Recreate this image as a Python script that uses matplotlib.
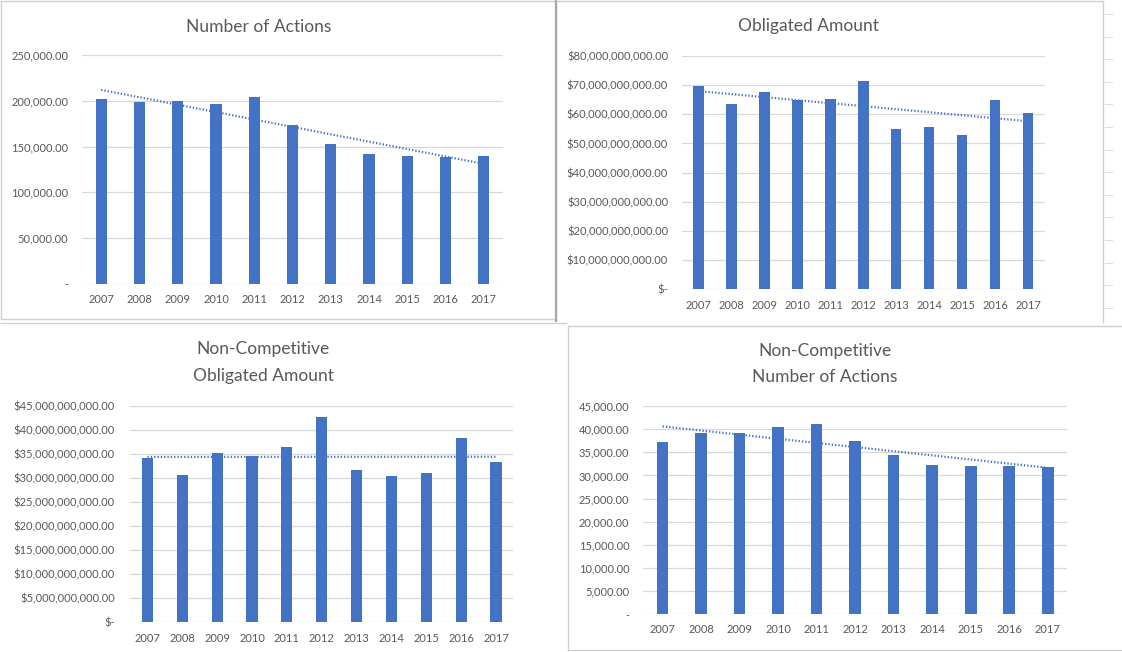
import numpy as np
import matplotlib
matplotlib.use("Agg")
import matplotlib.pyplot as plt
from matplotlib.ticker import FuncFormatter, MultipleLocator

plt.rcParams['font.family'] = ['Lato', 'DejaVu Sans']

years = ['2007', '2008', '2009', '2010', '2011', '2012', '2013', '2014', '2015', '2016', '2017']

# values
num_actions = [202000, 198700, 199400, 196200, 203800, 173600, 152500, 142300, 140000, 138300, 140000]
obligated = [69.6e9, 63.5e9, 67.6e9, 64.9e9, 65.2e9, 71.3e9, 54.9e9, 55.5e9, 52.9e9, 64.9e9, 60.4e9]
nc_obligated = [34.3e9, 30.6e9, 35.3e9, 34.7e9, 36.4e9, 42.7e9, 31.7e9, 30.4e9, 31.1e9, 38.3e9, 33.4e9]
nc_actions = [37150, 39100, 39100, 40500, 41200, 37400, 34500, 32300, 32100, 32100, 31900]

W, H = 1122, 652
BAR = '#4472C4'
TXT = '#595959'
GRID = '#D9D9D9'

fig = plt.figure(figsize=(W / 100, H / 100), dpi=100, facecolor='white')

# background layer in pixel coordinates for the panel frames
bg = fig.add_axes([0, 0, 1, 1], zorder=0)
bg.set_xlim(0, W)
bg.set_ylim(H, 0)
bg.axis('off')
frames = [
    ([0.5, 556, 556, 0.5, 0.5], [0.5, 0.5, 318.5, 318.5, 0.5], '#D0D0D0', 1.0),
    ([556, 556], [0, 322], '#A8A8A8', 1.6),
    ([556, 1103, 1103], [0.5, 0.5, 322.5], '#D0D0D0', 1.0),
    ([0, 567], [322.5, 322.5], '#D0D0D0', 1.0),
    ([568, 568, 1122], [651, 326, 326], '#D0D0D0', 1.0),
    ([568, 1122], [649.5, 649.5], '#D0D0D0', 1.0),
]
for xs, ys, c, lw in frames:
    bg.plot(xs, ys, color=c, lw=lw, solid_capstyle='butt')
# spreadsheet cell lines peeking out at the right
for yy in np.arange(14, 310, 22.6):
    bg.plot([1105, 1112], [yy, yy], color='#E0E0E0', lw=0.8)


def px_axes(x0, y0, x1, y1):
    return fig.add_axes([x0 / W, 1 - y1 / H, (x1 - x0) / W, (y1 - y0) / H], zorder=2)


def money(v, p):
    return '$-' if v == 0 else f'${v:,.2f}'


def plain(v, p):
    return '-' if v == 0 else f'{v:,.2f}'


def chart(box, values, ymax, step, fmt, titles, title_x, ypad, xpad, bar_w):
    ax = px_axes(*box)
    x = np.arange(len(years))
    ax.bar(x, values, width=bar_w, color=BAR, zorder=3)
    # linear trendline, as Excel draws it
    k, b = np.polyfit(x, values, 1)
    ax.plot([0, 10], [b, b + 10 * k], color=BAR, lw=1.6, ls=(0, (0.6, 0.9)), zorder=4)
    ax.set_xlim(-0.5, 10.5)
    ax.set_ylim(0, ymax)
    ax.yaxis.set_major_locator(MultipleLocator(step))
    ax.yaxis.set_major_formatter(FuncFormatter(fmt))
    ax.set_xticks(x)
    ax.set_xticklabels(years)
    ax.grid(axis='y', color=GRID, lw=0.9, zorder=0)
    for s in ax.spines.values():
        s.set_visible(False)
    ax.tick_params(axis='y', length=0, pad=ypad, labelsize=8, labelcolor=TXT)
    ax.tick_params(axis='x', length=0, pad=xpad, labelsize=8, labelcolor=TXT)
    ax.set_facecolor('none')
    for line, base in titles:
        fig.text(title_x / W, 1 - base / H, line, ha='center', va='baseline',
                 fontsize=12.5, color=TXT)
    return ax


chart((82, 55, 503, 284), num_actions, 250000, 50000, plain,
      [('Number of Actions', 31.5)], 259, 10, 7.5, 0.29)
chart((682, 56, 1044.5, 289.3), obligated, 80e9, 10e9, money,
      [('Obligated Amount', 31.5)], 808, 10, 8, 0.32)
chart((130, 406.3, 513.4, 621.7), nc_obligated, 45e9, 5e9, money,
      [('Non-Competitive', 354.3), ('Obligated Amount', 380.7)], 263, 11, 8, 0.32)
chart((643.4, 406, 1067, 614.3), nc_actions, 45000, 5000, plain,
      [('Non-Competitive', 356), ('Number of Actions', 381.7)], 825, 10, 7, 0.3)

fig.savefig('out.png', dpi=100, facecolor='white')
